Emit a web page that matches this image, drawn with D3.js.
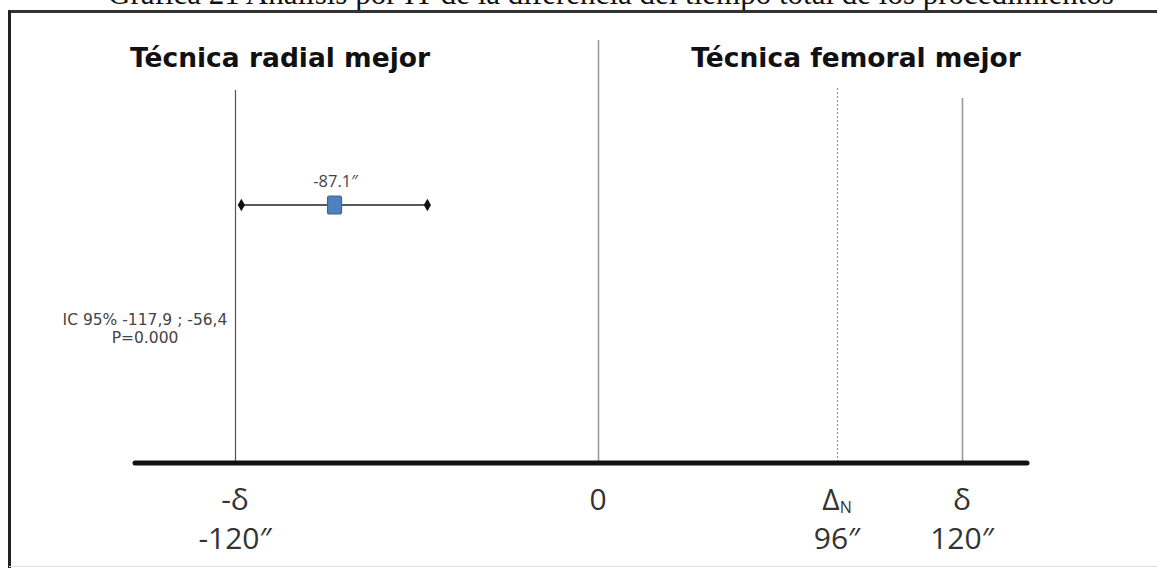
<!DOCTYPE html>
<html>
<head>
<meta charset="utf-8">
<script src="https://cdn.jsdelivr.net/npm/d3@7"></script>
<style>
  body { margin: 0; background: #fff; }
  svg { display: block; }
</style>
</head>
<body>
<div class="chart-area"></div>
<script>
var tickValues = [-120, 0, 96, 120],
    tickSymbols = ["-δ", "0", "Δ", "δ"],
    tickLabels = ["-120″", "", "96″", "120″"],
    refLineStyles = ["solid", "light", "dotted", "light"],
    estimates = [-87.1],
    ciLow = [-117.9],
    ciHigh = [-56.4],
    estimateLabels = ["-87.1″"],
    headers = ["Técnica radial mejor", "Técnica femoral mejor"],
    statsText = ["IC 95% -117,9 ; -56,4", "P=0.000"],
    title = "Gráfica 21 Análisis por IT de la diferencia del tiempo total de los procedimientos";

var width = 1157,
    height = 568,
    axisY = 463,
    lineTops = [90, 40, 88, 98],
    svg = d3.select(".chart-area")
            .append("svg")
            .attr("width", width)
            .attr("height", height);

// schematic scale, not proportional between the marked points
var x = d3.scaleLinear()
          .domain(tickValues)
          .range([235, 598, 837, 962]);

// title, cut at the top of the picture
svg.append("text")
   .attr("x", 611)
   .attr("y", 4)
   .attr("text-anchor", "middle")
   .attr("font-family", "Liberation Serif, Times New Roman, serif")
   .attr("font-size", 31)
   .attr("fill", "#111")
   .text(title);

// frame
svg.append("line")
   .attr("x1", 9).attr("x2", width).attr("y1", 11.5).attr("y2", 11.5)
   .attr("stroke", "#333").attr("stroke-width", 3);
svg.append("line")
   .attr("x1", 9.5).attr("x2", 9.5).attr("y1", 10).attr("y2", height)
   .attr("stroke", "#222").attr("stroke-width", 3);
svg.append("line")
   .attr("x1", 9).attr("x2", width).attr("y1", 566.5).attr("y2", 566.5)
   .attr("stroke", "#ddd").attr("stroke-width", 1);

// headers
svg.selectAll(".header")
   .data(headers)
   .enter()
   .append("text")
   .attr("class", "header")
   .attr("x", function(d, i) { return i == 0 ? 280 : 856 })
   .attr("y", 67)
   .attr("text-anchor", "middle")
   .attr("font-family", "DejaVu Sans, Verdana, sans-serif")
   .attr("font-weight", "bold")
   .attr("font-size", 26.5)
   .attr("fill", "#111")
   .text(function(d) { return d });

// reference lines
svg.selectAll(".ref")
   .data(tickValues)
   .enter()
   .append("line")
   .attr("class", "ref")
   .attr("x1", function(d) { return Math.round(x(d)) + 0.5 })
   .attr("x2", function(d) { return Math.round(x(d)) + 0.5 })
   .attr("y1", function(d, i) { return lineTops[i] })
   .attr("y2", axisY)
   .attr("stroke", function(d, i) { return refLineStyles[i] == "solid" ? "#555" : "#999" })
   .attr("stroke-width", function(d, i) { return refLineStyles[i] == "light" ? 1.6 : 1.2 })
   .attr("stroke-dasharray", function(d, i) { return refLineStyles[i] == "dotted" ? "2,2" : null });

// main axis
svg.append("line")
   .attr("x1", 135).attr("x2", 1027).attr("y1", axisY).attr("y2", axisY)
   .attr("stroke", "#111").attr("stroke-width", 5).attr("stroke-linecap", "round");

// tick symbols
var sym = svg.selectAll(".sym")
   .data(tickValues)
   .enter()
   .append("text")
   .attr("class", "sym")
   .attr("x", function(d) { return x(d) })
   .attr("y", 510)
   .attr("text-anchor", "middle")
   .attr("font-family", "Open Sans, sans-serif")
   .attr("font-size", 30)
   .attr("fill", "#333");
sym.append("tspan").text(function(d, i) { return tickSymbols[i] });
sym.filter(function(d, i) { return i == 2 })
   .append("tspan")
   .attr("font-size", 16)
   .attr("dy", 3)
   .text("N");

svg.selectAll(".tlabel")
   .data(tickValues)
   .enter()
   .append("text")
   .attr("class", "tlabel")
   .attr("x", function(d) { return x(d) })
   .attr("y", 549)
   .attr("text-anchor", "middle")
   .attr("font-family", "Open Sans, sans-serif")
   .attr("font-size", 30)
   .attr("fill", "#333")
   .text(function(d, i) { return tickLabels[i] });

// confidence interval
var rowY = 205;
svg.selectAll(".ci")
   .data(estimates)
   .enter()
   .append("line")
   .attr("class", "ci")
   .attr("x1", function(d, i) { return x(ciLow[i]) })
   .attr("x2", function(d, i) { return x(ciHigh[i]) })
   .attr("y1", rowY).attr("y2", rowY)
   .attr("stroke", "#222").attr("stroke-width", 1.6);

var ends = [];
estimates.forEach(function(d, i) { ends.push(ciLow[i], ciHigh[i]) });
svg.selectAll(".end")
   .data(ends)
   .enter()
   .append("path")
   .attr("class", "end")
   .attr("d", d3.symbol(d3.symbolDiamond, 45))
   .attr("transform", function(d) { return "translate(" + x(d) + "," + rowY + ")" })
   .attr("fill", "#111");

svg.selectAll(".est")
   .data(estimates)
   .enter()
   .append("rect")
   .attr("class", "est")
   .attr("x", function(d) { return x(d) - 7 })
   .attr("y", rowY - 9)
   .attr("width", 14)
   .attr("height", 18)
   .attr("rx", 2)
   .attr("fill", "#4f81bd")
   .attr("stroke", "#3a6499")
   .attr("stroke-width", 1.2);

svg.selectAll(".estlabel")
   .data(estimates)
   .enter()
   .append("text")
   .attr("class", "estlabel")
   .attr("x", function(d) { return x(d) + 1 })
   .attr("y", rowY - 18)
   .attr("text-anchor", "middle")
   .attr("font-family", "Open Sans, sans-serif")
   .attr("font-size", 16.5)
   .attr("fill", "#444")
   .text(function(d, i) { return estimateLabels[i] });

// stats text
svg.selectAll(".stats")
   .data(statsText)
   .enter()
   .append("text")
   .attr("class", "stats")
   .attr("x", 145)
   .attr("y", function(d, i) { return 325 + i * 18 })
   .attr("text-anchor", "middle")
   .attr("font-family", "DejaVu Sans, Verdana, sans-serif")
   .attr("font-size", 15.5)
   .attr("fill", "#444")
   .text(function(d) { return d });
</script>
</body>
</html>
